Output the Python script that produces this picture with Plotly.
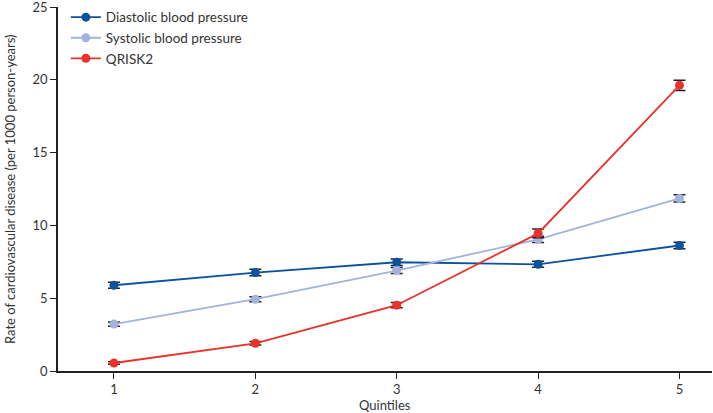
import plotly.graph_objects as go

quintiles = [1, 2, 3, 4, 5]
diastolic = [5.89, 6.76, 7.47, 7.33, 8.62]
diastolic_err = [0.2, 0.22, 0.22, 0.2, 0.22]
systolic = [3.22, 4.93, 6.90, 9.04, 11.85]
systolic_err = [0.15, 0.17, 0.2, 0.22, 0.25]
qrisk2 = [0.55, 1.90, 4.52, 9.45, 19.62]
qrisk2_err = [0.08, 0.12, 0.18, 0.3, 0.35]

series = [
    ("Diastolic blood pressure", diastolic, diastolic_err, "#0b529f"),
    ("Systolic blood pressure", systolic, systolic_err, "#a3b3db"),
    ("QRISK2", qrisk2, qrisk2_err, "#e8322b"),
]

fig = go.Figure()
for name, vals, err, col in series:
    fig.add_trace(go.Scatter(
        x=quintiles, y=vals, name=name, mode="lines+markers",
        line=dict(color=col, width=1.8),
        marker=dict(color=col, size=9),
        error_y=dict(type="data", array=err, color="#222222", thickness=1.5, width=6),
    ))

font = "Lato, 'Open Sans', sans-serif"
fig.update_layout(
    width=713, height=413,
    margin=dict(l=58, r=1, t=7, b=42, autoexpand=False),
    paper_bgcolor="white", plot_bgcolor="white",
    font=dict(family=font, size=13, color="#333333"),
    showlegend=True,
    legend=dict(x=0.012, y=1.014, xanchor="left", yanchor="top",
                bgcolor="rgba(0,0,0,0)", font=dict(size=13.5, color="#333333"),
                tracegroupgap=0, itemwidth=30),
    xaxis=dict(range=[0.604, 5.23], tickvals=quintiles, ticks="outside", ticklen=6,
               tickcolor="#222222", showline=True, linecolor="#222222", linewidth=1.5,
               showgrid=False, zeroline=False, automargin=False,
               tickfont=dict(size=13), ticklabeloverflow="allow"),
    yaxis=dict(range=[0, 25], tickvals=[0, 5, 10, 15, 20, 25], ticks="outside", ticklen=6,
               tickcolor="#222222", showline=True, linecolor="#222222", linewidth=1.5,
               showgrid=False, zeroline=False, automargin=False,
               tickfont=dict(size=13), ticklabeloverflow="allow"),
    annotations=[
        dict(text="Quintiles", xref="paper", yref="paper", x=0.5, y=0,
             yshift=-24, xanchor="center", yanchor="top", showarrow=False,
             font=dict(size=13)),
        dict(text="Rate of cardiovascular disease (per 1000 person-years)",
             xref="paper", yref="paper", x=0, y=0.5, xshift=-48,
             xanchor="center", yanchor="middle", textangle=-90, showarrow=False,
             font=dict(size=13)),
    ],
)
fig.write_html("out.html", config={"displayModeBar": False},
               post_script="document.body.style.margin='0';document.body.style.overflow='hidden';")
